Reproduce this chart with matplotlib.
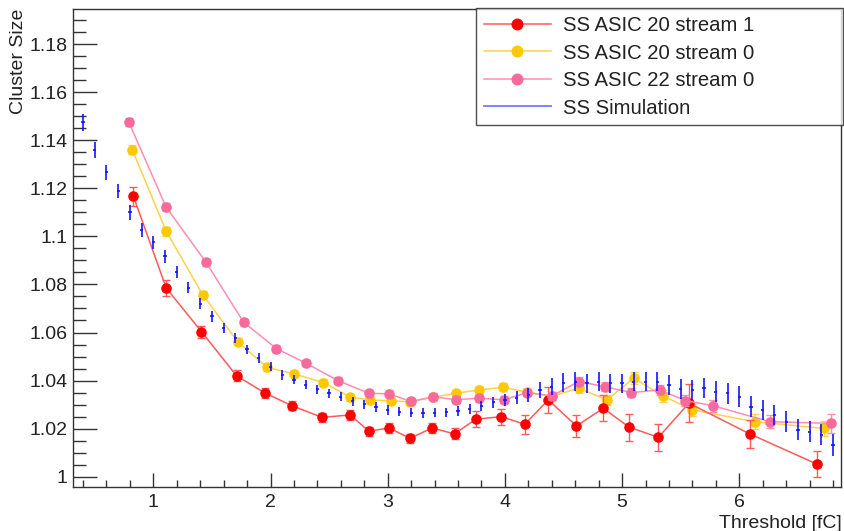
import matplotlib
matplotlib.use("Agg")
import matplotlib.pyplot as plt
from matplotlib.lines import Line2D
from matplotlib.ticker import MultipleLocator, FuncFormatter

plt.rcParams['font.family'] = ['Liberation Sans', 'DejaVu Sans']

# ---- measured cluster size vs threshold ----
asic20_s1_x = [0.83, 1.11, 1.41, 1.71, 1.95, 2.18, 2.44, 2.68, 2.84, 3.01, 3.19, 3.38,
               3.57, 3.75, 3.97, 4.17, 4.37, 4.61, 4.84, 5.06, 5.31, 5.57, 6.09, 6.66]
asic20_s1_y = [1.1167, 1.0785, 1.0604, 1.0420, 1.0349, 1.0296, 1.0247, 1.0257, 1.0189,
               1.0203, 1.0160, 1.0203, 1.0178, 1.0239, 1.0250, 1.0218, 1.0320, 1.0211,
               1.0285, 1.0206, 1.0164, 1.0306, 1.0178, 1.0053]
asic20_s1_e = [0.0040, 0.0035, 0.0025, 0.0022, 0.0020, 0.0018, 0.0018, 0.0022, 0.0018,
               0.0020, 0.0018, 0.0020, 0.0023, 0.0033, 0.0033, 0.0040, 0.0055, 0.0047,
               0.0055, 0.0057, 0.0056, 0.0080, 0.0060, 0.0054]

asic20_s0_x = [0.82, 1.11, 1.42, 1.72, 1.97, 2.20, 2.45, 2.68, 2.85, 3.03, 3.19, 3.39,
               3.58, 3.78, 3.98, 4.19, 4.40, 4.63, 4.87, 5.10, 5.35, 5.60, 6.13, 6.72]
asic20_s0_y = [1.1361, 1.1021, 1.0758, 1.0562, 1.0455, 1.0428, 1.0392, 1.0331, 1.0320,
               1.0315, 1.0312, 1.0331, 1.0347, 1.0361, 1.0372, 1.0352, 1.0335, 1.0368,
               1.0320, 1.0410, 1.0336, 1.0278, 1.0229, 1.0201]
asic20_s0_e = [0.0020, 0.0018, 0.0016, 0.0015, 0.0014, 0.0014, 0.0014, 0.0014, 0.0014,
               0.0014, 0.0014, 0.0014, 0.0015, 0.0015, 0.0016, 0.0016, 0.0018, 0.0020,
               0.0022, 0.0025, 0.0025, 0.0025, 0.0030, 0.0030]

asic22_s0_x = [0.79, 1.11, 1.45, 1.77, 2.05, 2.30, 2.58, 2.84, 3.01, 3.20, 3.39, 3.58,
               3.78, 3.99, 4.19, 4.40, 4.63, 4.85, 5.08, 5.32, 5.54, 5.78, 6.26, 6.78]
asic22_s0_y = [1.1476, 1.1121, 1.0892, 1.0643, 1.0533, 1.0473, 1.0399, 1.0347, 1.0345,
               1.0313, 1.0333, 1.0320, 1.0327, 1.0320, 1.0350, 1.0336, 1.0396, 1.0375,
               1.0350, 1.0361, 1.0317, 1.0295, 1.0229, 1.0222]
asic22_s0_e = [0.0018, 0.0016, 0.0015, 0.0014, 0.0014, 0.0014, 0.0014, 0.0014, 0.0014,
               0.0014, 0.0014, 0.0014, 0.0015, 0.0015, 0.0016, 0.0016, 0.0018, 0.0018,
               0.0020, 0.0020, 0.0022, 0.0025, 0.0028, 0.0040]

# ---- simulation ----
sim_x = [0.4, 0.5, 0.6, 0.7, 0.8, 0.9, 1.0, 1.1, 1.2, 1.3, 1.4, 1.5, 1.6, 1.7, 1.8, 1.9,
         2.0, 2.1, 2.2, 2.3, 2.4, 2.5, 2.6, 2.7, 2.8, 2.9, 3.0, 3.1, 3.2, 3.3, 3.4, 3.5,
         3.6, 3.7, 3.8, 3.9, 4.0, 4.1, 4.2, 4.3, 4.4, 4.5, 4.6, 4.7, 4.8, 4.9, 5.0, 5.1,
         5.2, 5.3, 5.4, 5.5, 5.6, 5.7, 5.8, 5.9, 6.0, 6.1, 6.2, 6.3, 6.4, 6.5, 6.6, 6.7,
         6.8, 6.9]
sim_y = [1.1474, 1.1360, 1.1267, 1.1188, 1.1100, 1.1027, 1.0976, 1.0917, 1.0851, 1.0787,
         1.0720, 1.0667, 1.0618, 1.0576, 1.0530, 1.0493, 1.0457, 1.0423, 1.0403, 1.0382,
         1.0364, 1.0347, 1.0333, 1.0313, 1.0302, 1.0290, 1.0278, 1.0271, 1.0267, 1.0264,
         1.0267, 1.0268, 1.0274, 1.0282, 1.0295, 1.0310, 1.0320, 1.0329, 1.0340, 1.0361,
         1.0375, 1.0392, 1.0396, 1.0389, 1.0396, 1.0389, 1.0389, 1.0396, 1.0396, 1.0396,
         1.0382, 1.0364, 1.0361, 1.0368, 1.0354, 1.0347, 1.0333, 1.0292, 1.0278, 1.0257,
         1.0229, 1.0195, 1.0188, 1.0174, 1.0132, 1.0118]
sim_e = [0.0035, 0.0033, 0.0032, 0.0030, 0.0030, 0.0028, 0.0027, 0.0026, 0.0025, 0.0024,
         0.0023, 0.0022, 0.0021, 0.0020, 0.0020, 0.0020, 0.0019, 0.0019, 0.0019, 0.0019,
         0.0019, 0.0019, 0.0019, 0.0019, 0.0019, 0.0019, 0.0020, 0.0020, 0.0020, 0.0020,
         0.0020, 0.0020, 0.0020, 0.0021, 0.0022, 0.0023, 0.0025, 0.0028, 0.0030, 0.0032,
         0.0035, 0.0038, 0.0040, 0.0040, 0.0040, 0.0040, 0.0040, 0.0040, 0.0041, 0.0041,
         0.0041, 0.0042, 0.0042, 0.0042, 0.0043, 0.0043, 0.0043, 0.0043, 0.0043, 0.0043,
         0.0043, 0.0044, 0.0044, 0.0044, 0.0045, 0.0045]

labels = ["SS ASIC 20 stream 1", "SS ASIC 20 stream 0", "SS ASIC 22 stream 0", "SS Simulation"]

RED_M, RED_L = "#FF0000", "#FF5A5A"
YEL_M, YEL_L = "#FFC800", "#FFD24A"
PNK_M, PNK_L = "#F76A9C", "#FF8DB5"
BLUE = "#1515FF"

fig = plt.figure(figsize=(8.44, 5.31), dpi=100)
ax = fig.add_axes([73.3 / 844, 1 - 487.3 / 531, (841 - 73.3) / 844, (487.3 - 9) / 531])

ms = 7.6
ax.errorbar(asic20_s0_x, asic20_s0_y, yerr=asic20_s0_e, fmt='none', ecolor=YEL_L,
            elinewidth=1.0, capsize=3, capthick=1.0, zorder=2)
ax.plot(asic20_s0_x, asic20_s0_y, '-', color=YEL_L, lw=1.1, zorder=2)
ax.plot(asic20_s0_x, asic20_s0_y, 'o', color=YEL_M, ms=ms, mew=0, zorder=2.1)

ax.errorbar(asic20_s1_x, asic20_s1_y, yerr=asic20_s1_e, fmt='none', ecolor=RED_L,
            elinewidth=1.0, capsize=3, capthick=1.0, zorder=3)
ax.plot(asic20_s1_x, asic20_s1_y, '-', color=RED_L, lw=1.1, zorder=3)
ax.plot(asic20_s1_x, asic20_s1_y, 'o', color=RED_M, ms=ms, mew=0, zorder=3.1)

ax.errorbar(asic22_s0_x, asic22_s0_y, yerr=asic22_s0_e, fmt='none', ecolor=PNK_L,
            elinewidth=1.0, capsize=3, capthick=1.0, zorder=4)
ax.plot(asic22_s0_x, asic22_s0_y, '-', color=PNK_L, lw=1.1, zorder=4)
ax.plot(asic22_s0_x, asic22_s0_y, 'o', color=PNK_M, ms=ms, mew=0, zorder=4.1)

ax.errorbar(sim_x, sim_y, yerr=sim_e, xerr=0.014, fmt='none', ecolor=BLUE,
            elinewidth=1.2, capsize=0, zorder=5)

ax.set_xlim(0.317, 6.868)
ax.set_ylim(0.9956, 1.1946)

ax.xaxis.set_major_locator(MultipleLocator(1))
ax.xaxis.set_minor_locator(MultipleLocator(0.2))
ax.yaxis.set_major_locator(MultipleLocator(0.02))
ax.yaxis.set_minor_locator(MultipleLocator(0.005))
ax.yaxis.set_major_formatter(FuncFormatter(lambda v, p: f"{v:.2f}".rstrip('0').rstrip('.')))
ax.xaxis.set_major_formatter(FuncFormatter(lambda v, p: f"{v:g}"))

ax.tick_params(axis='both', which='both', direction='in', top=False, right=False,
               color='#333333', width=1.0, labelsize=14, labelcolor='#222222')
ax.tick_params(axis='x', which='major', length=10, pad=5)
ax.tick_params(axis='x', which='minor', length=5)
ax.tick_params(axis='y', which='major', length=17, pad=4)
ax.tick_params(axis='y', which='minor', length=9.5)
for s in ax.spines.values():
    s.set_color('#333333')
    s.set_linewidth(1.0)

fig.text(841.5 / 844, 1 - 527.5 / 531, "Threshold [fC]", ha='right', va='baseline',
         fontsize=14, color='#222222')
fig.text(10 / 844, 1 - 9 / 531, "Cluster Size", ha='left', va='top', rotation=90,
         fontsize=14, color='#222222')

handles = [
    Line2D([], [], color=RED_L, lw=1.1, marker='o', mfc=RED_M, mec=RED_M, ms=ms),
    Line2D([], [], color=YEL_L, lw=1.1, marker='o', mfc=YEL_M, mec=YEL_M, ms=ms),
    Line2D([], [], color=PNK_L, lw=1.1, marker='o', mfc=PNK_M, mec=PNK_M, ms=ms),
    Line2D([], [], color="#7777FF", lw=1.3),
]
x0, x1 = 476 / 844, 843 / 844
y1 = 1 - 8.3 / 531
leg = fig.legend(handles, labels, loc='upper left',
                 bbox_to_anchor=(x0, y1 - 0.3, x1 - x0, 0.3), mode='expand',
                 fontsize=14.6, frameon=True, fancybox=False, shadow=False,
                 handlelength=3.3, handletextpad=0.6, borderpad=0.38,
                 labelspacing=0.42, borderaxespad=0.0)
leg.get_frame().set_edgecolor('#222222')
leg.get_frame().set_linewidth(1.0)
for t in leg.get_texts():
    t.set_color('#222222')

fig.savefig("out.png", dpi=100)
